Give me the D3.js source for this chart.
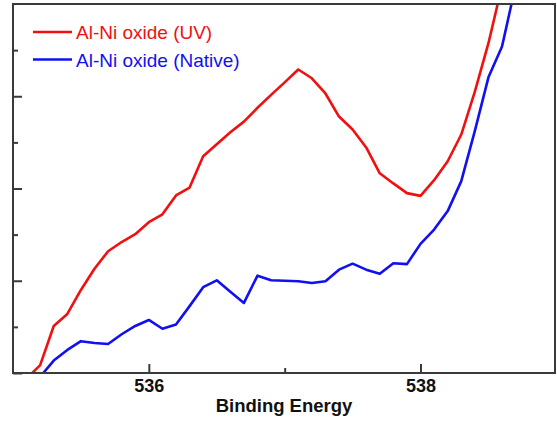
<!DOCTYPE html>
<html>
<head>
<meta charset="utf-8">
<script src="https://cdn.jsdelivr.net/npm/d3@7"></script>
<style>
  body { margin: 0; background: #fff; }
  svg { display: block; }
  text { font-family: Arial, "Liberation Sans", sans-serif; }
</style>
</head>
<body>
<svg id="chart" width="557" height="422"></svg>
<script>
var width = 557;
var height = 422;
var margin = {top: 4, right: 2, bottom: 49, left: 13};

// binding energy (eV), 0.1 eV steps
var energy = [535.1, 535.2, 535.3, 535.4, 535.5, 535.6, 535.7, 535.8, 535.9, 536.0,
              536.1, 536.2, 536.3, 536.4, 536.5, 536.6, 536.7, 536.8, 536.9, 537.0,
              537.1, 537.2, 537.3, 537.4, 537.5, 537.6, 537.7, 537.8, 537.9, 538.0,
              538.1, 538.2, 538.3, 538.4, 538.5, 538.6, 538.7];

// intensity, arbitrary units
var uvValues = [-0.12, 0.17, 1.02, 1.28, 1.80, 2.26, 2.64, 2.84, 3.01, 3.27,
                3.44, 3.85, 4.02, 4.70, 4.96, 5.22, 5.45, 5.75, 6.03, 6.30,
                6.58, 6.39, 6.06, 5.56, 5.28, 4.89, 4.33, 4.11, 3.90, 3.84,
                4.18, 4.59, 5.17, 6.10, 7.15, 8.40, 9.60];

var nativeValues = [-0.45, -0.08, 0.27, 0.50, 0.69, 0.65, 0.63, 0.84, 1.02, 1.15,
                    0.96, 1.05, 1.45, 1.86, 2.01, 1.76, 1.52, 2.11, 2.01, 2.00,
                    1.99, 1.95, 1.99, 2.24, 2.37, 2.24, 2.15, 2.38, 2.36, 2.80,
                    3.11, 3.51, 4.16, 5.25, 6.41, 7.08, 8.40];

var seriesNames = ["Al-Ni oxide (UV)", "Al-Ni oxide (Native)"];
var seriesColors = ["#f01010", "#1010f0"];

var xMajor = [536, 538];
var xMinor = [537];
var yMajor = [0, 2, 4, 6];
var yMinor = [1, 3, 5, 7];

var w = width - margin.left - margin.right;
var h = height - margin.top - margin.bottom;

var svg = d3.select("#chart");
var chart = svg.append("g")
    .attr("transform", "translate(" + margin.left + "," + margin.top + ")");

var x = d3.scaleLinear().domain([535, 538.99]).range([0, w]);
var y = d3.scaleLinear().domain([0, 8]).range([h, 0]);

chart.append("clipPath")
    .attr("id", "clip")
    .append("rect")
    .attr("width", w)
    .attr("height", h);

// lines
var line = d3.line()
    .x(function(d, i) { return x(energy[i]); })
    .y(function(d) { return y(d); });

[uvValues, nativeValues].forEach(function(vals, k) {
    chart.append("path")
        .datum(vals)
        .attr("clip-path", "url(#clip)")
        .attr("fill", "none")
        .attr("stroke", seriesColors[k])
        .attr("stroke-width", 2.6)
        .attr("stroke-linejoin", "round")
        .attr("d", line);
});

// frame
chart.append("rect")
    .attr("width", w)
    .attr("height", h)
    .attr("fill", "none")
    .attr("stroke", "#3a3a3a")
    .attr("stroke-width", 2);

// x axis: inward ticks
var xAxisMajor = chart.append("g")
    .attr("transform", "translate(0," + h + ")")
    .call(d3.axisBottom(x).tickValues(xMajor).tickSize(-9).tickPadding(6)
          .tickFormat(d3.format("d")));
var xAxisMinor = chart.append("g")
    .attr("transform", "translate(0," + h + ")")
    .call(d3.axisBottom(x).tickValues(xMinor).tickSize(-5).tickFormat(""));

[xAxisMajor, xAxisMinor].forEach(function(g) {
    g.select(".domain").remove();
    g.selectAll("line").attr("stroke", "#3a3a3a").attr("stroke-width", 2);
});
xAxisMajor.selectAll("text")
    .attr("fill", "#111")
    .style("font-size", "18px")
    .style("font-weight", "bold");

// y axis: inward ticks, no labels
var yAxisMajor = chart.append("g")
    .call(d3.axisLeft(y).tickValues(yMajor).tickSize(-9).tickFormat(""));
var yAxisMinor = chart.append("g")
    .call(d3.axisLeft(y).tickValues(yMinor).tickSize(-5).tickFormat(""));
[yAxisMajor, yAxisMinor].forEach(function(g) {
    g.select(".domain").remove();
    g.selectAll("line").attr("stroke", "#3a3a3a").attr("stroke-width", 2);
});

// x label
svg.append("text")
    .attr("x", margin.left + w / 2)
    .attr("y", 412)
    .attr("text-anchor", "middle")
    .attr("fill", "#111")
    .style("font-size", "18.5px")
    .style("font-weight", "bold")
    .text("Binding Energy");

// legend
var legend = svg.append("g");
seriesNames.forEach(function(name, i) {
    var ly = 32 + i * 27.5;
    legend.append("line")
        .attr("x1", 33).attr("x2", 72)
        .attr("y1", ly).attr("y2", ly)
        .attr("stroke", seriesColors[i])
        .attr("stroke-width", 2.6);
    legend.append("text")
        .attr("x", 76)
        .attr("y", ly + 7)
        .attr("fill", seriesColors[i])
        .style("font-size", "19px")
        .text(name);
});
</script>
</body>
</html>
